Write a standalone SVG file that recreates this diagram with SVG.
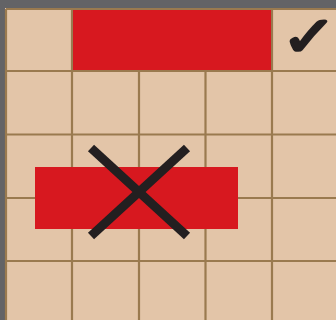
<svg xmlns="http://www.w3.org/2000/svg" width="336" height="320" viewBox="0 0 336 320">
<style>
.bg{fill:#636366}
.cell{fill:#e3c5a8}
.grid{stroke:#9a7a4f;stroke-width:2.2;fill:none}
.red{fill:#d7181f}
.x{stroke:#231f20;stroke-width:9;stroke-linecap:butt}
.chk{font-family:"DejaVu Sans",sans-serif;font-size:56px;fill:#231f20;stroke:#231f20;stroke-width:2.5;stroke-linejoin:round}
</style>
<rect class="bg" x="0" y="0" width="336" height="320"/>
<g id="board">
<rect class="cell" x="5" y="8" width="331" height="312"/>
</g>
<g id="grid-lines">
<path class="grid" d="M6,9H336M6,71H336M6,134.5H336M6,198H336M6,261H336M6,9V320M72,9V320M139,9V320M205.5,9V320M272,9V320"/>
</g>
<g id="top-bar"><rect class="red" x="73" y="10" width="198" height="60"/></g>
<g id="mid-bar"><rect class="red" x="35" y="167" width="203" height="62"/></g>
<g id="cross">
<line class="x" x1="91" y1="148" x2="187" y2="236"/>
<line class="x" x1="187" y1="148" x2="91" y2="236"/>
</g>
<g id="check"><text class="chk" transform="translate(281,56) scale(1.2,1)" x="0" y="0">✓</text></g>
</svg>
